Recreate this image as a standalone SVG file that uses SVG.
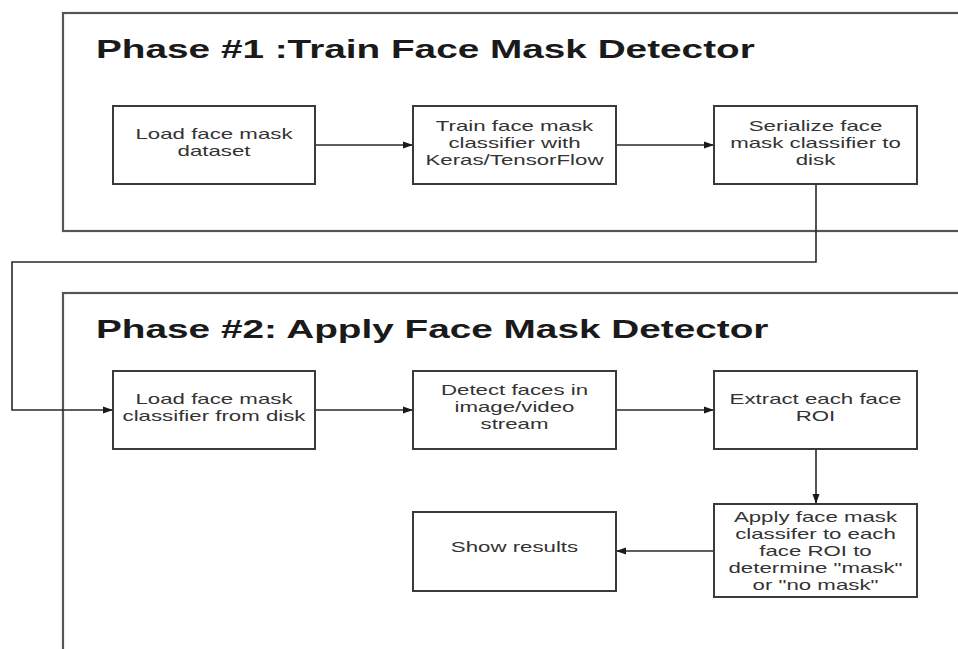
<svg xmlns="http://www.w3.org/2000/svg" width="958" height="649" viewBox="0 0 958 649">
<style>
.frame{fill:none;stroke:#555;stroke-width:2.2}
.box{fill:#fff;stroke:#3a3a3a;stroke-width:2}
.lbl{font-family:"Liberation Sans",Arial,sans-serif;font-size:14px;fill:#333;text-anchor:middle}
.title{font-family:"Liberation Sans",Arial,sans-serif;font-size:25px;font-weight:bold;fill:#1a1a1a}
.conn{fill:none;stroke:#2a2a2a;stroke-width:1.6}
</style>
<defs>
<marker id="arr" markerUnits="userSpaceOnUse" markerWidth="11" markerHeight="8" refX="10" refY="4" orient="auto">
<path d="M0,0.5 L10,4 L0,7.5 z" fill="#1a1a1a"/>
</marker>
</defs>
<rect width="958" height="649" fill="#fff"/>

<g id="phase1">
<rect class="frame" x="63" y="13" width="1000" height="218"/>
<g transform="translate(96,0) scale(1.55,1)"><text class="title" x="0" y="58">Phase #1 :Train Face Mask Detector</text></g>
</g>
<g id="phase2">
<rect class="frame" x="63" y="293" width="1000" height="400"/>
<g transform="translate(96,0) scale(1.55,1)"><text class="title" x="0" y="338">Phase #2: Apply Face Mask Detector</text></g>
</g>

<g id="connectors">
<line class="conn" x1="315" y1="145" x2="413" y2="145" marker-end="url(#arr)"/>
<line class="conn" x1="616" y1="145" x2="714" y2="145" marker-end="url(#arr)"/>
<polyline class="conn" points="816,184 816,262 12,262 12,410 113,410" marker-end="url(#arr)"/>
<line class="conn" x1="315" y1="410" x2="413" y2="410" marker-end="url(#arr)"/>
<line class="conn" x1="616" y1="410" x2="714" y2="410" marker-end="url(#arr)"/>
<line class="conn" x1="816" y1="449" x2="816" y2="504" stroke-width="2" marker-end="url(#arr)"/>
<line class="conn" x1="714" y1="551" x2="616" y2="551" marker-end="url(#arr)"/>
</g>

<g id="load-dataset">
<rect class="box" x="113" y="106" width="202" height="78"/>
<g transform="translate(214,0) scale(1.59,1)">
<text class="lbl" x="0" y="139">Load face mask</text>
<text class="lbl" x="0" y="156">dataset</text>
</g>
</g>
<g id="train">
<rect class="box" x="413" y="106" width="203" height="78"/>
<g transform="translate(514.5,0) scale(1.59,1)">
<text class="lbl" x="0" y="131">Train face mask</text>
<text class="lbl" x="0" y="148">classifier with</text>
<text class="lbl" x="0" y="165">Keras/TensorFlow</text>
</g>
</g>
<g id="serialize">
<rect class="box" x="714" y="106" width="203" height="78"/>
<g transform="translate(815.5,0) scale(1.59,1)">
<text class="lbl" x="0" y="131">Serialize face</text>
<text class="lbl" x="0" y="148">mask classifier to</text>
<text class="lbl" x="0" y="165">disk</text>
</g>
</g>

<g id="load-classifier">
<rect class="box" x="113" y="371" width="202" height="78"/>
<g transform="translate(214,0) scale(1.59,1)">
<text class="lbl" x="0" y="404.5">Load face mask</text>
<text class="lbl" x="0" y="421.5">classifier from disk</text>
</g>
</g>
<g id="detect">
<rect class="box" x="413" y="371" width="203" height="78"/>
<g transform="translate(514.5,0) scale(1.59,1)">
<text class="lbl" x="0" y="395">Detect faces in</text>
<text class="lbl" x="0" y="412">image/video</text>
<text class="lbl" x="0" y="429">stream</text>
</g>
</g>
<g id="extract">
<rect class="box" x="714" y="371" width="203" height="78"/>
<g transform="translate(815.5,0) scale(1.59,1)">
<text class="lbl" x="0" y="404.5">Extract each face</text>
<text class="lbl" x="0" y="421.5">ROI</text>
</g>
</g>
<g id="apply">
<rect class="box" x="714" y="504" width="203" height="93"/>
<g transform="translate(815.5,0) scale(1.59,1)">
<text class="lbl" x="0" y="522.5">Apply face mask</text>
<text class="lbl" x="0" y="539.5">classifer to each</text>
<text class="lbl" x="0" y="556.5">face ROI to</text>
<text class="lbl" x="0" y="573.5">determine "mask"</text>
<text class="lbl" x="0" y="590.5">or "no mask"</text>
</g>
</g>
<g id="show">
<rect class="box" x="413" y="512" width="203" height="79"/>
<g transform="translate(514.5,0) scale(1.59,1)">
<text class="lbl" x="0" y="552.5">Show results</text>
</g>
</g>
</svg>
